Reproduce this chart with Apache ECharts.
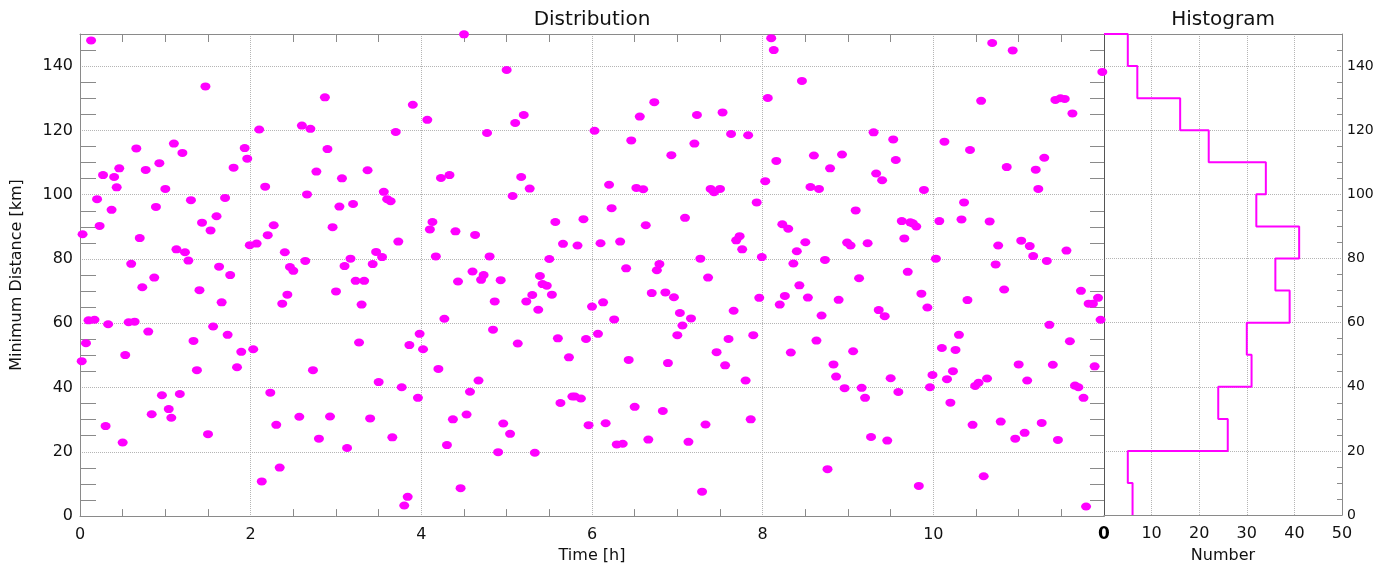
<!DOCTYPE html>
<html>
<head>
<meta charset="utf-8">
<script src="https://cdn.jsdelivr.net/npm/echarts@6/dist/echarts.min.js"></script>
<style>
html,body{margin:0;padding:0;background:#fff;}
#chart{width:1384px;height:569px;}
</style>
</head>
<body>
<div id="chart"></div>
<script>
// ---- Data ----
const titles = ['Distribution', 'Histogram'];
const xName = 'Time [h]';
const yName = 'Minimum Distance [km]';
const histName = 'Number';

const times = [
0.13,1.47,0.66,1.10,1.20,1.93,1.96,0.27,0.40,0.46,0.43,0.77,0.93,1.00,1.80,0.20,0.37,0.89,1.30,1.70,1.43,1.60,1.53,0.23,0.03,0.70,1.99,1.13,1.23,1.27,0.60,1.63,1.76,0.87,0.73,1.40,1.66,0.10,0.17,0.33,0.57,0.64,0.80,1.56,1.73,0.07,1.33,0.02,0.53,1.89,1.37,1.84,0.96,1.17,1.04,1.07,0.84,0.30,1.50,0.50,
2.87,3.90,2.10,2.60,2.70,3.70,2.90,2.77,3.07,3.37,2.17,2.66,3.56,3.60,3.64,3.04,3.20,2.27,2.20,2.96,2.07,3.73,2.40,2.64,2.46,2.50,3.17,3.10,3.47,3.54,3.43,3.23,3.33,3.00,2.43,2.37,3.30,3.27,2.03,3.86,3.98,4.02,2.73,3.50,3.77,3.96,2.23,2.30,2.57,2.93,3.40,2.80,3.13,3.66,2.34,2.13,3.84,3.80,
4.50,5.00,4.07,5.10,5.20,4.77,4.23,4.33,5.17,5.27,5.07,4.13,4.10,4.40,4.63,5.57,5.90,5.66,5.83,4.17,4.80,5.50,4.60,4.73,4.70,4.43,4.93,5.39,5.42,5.47,5.30,5.53,4.86,5.23,5.37,4.27,4.84,5.13,5.60,5.93,5.73,4.20,4.67,4.57,5.63,5.77,5.80,5.87,4.37,4.53,4.96,5.04,5.96,4.30,4.90,5.33,4.46,
6.73,6.56,7.23,7.53,6.03,6.46,7.20,7.63,7.83,6.93,6.20,6.52,6.60,7.39,7.43,7.50,6.23,7.93,7.09,6.63,6.10,6.33,7.69,7.73,7.76,7.99,6.40,6.76,6.79,7.27,7.36,6.70,6.86,6.96,7.96,6.00,6.13,7.03,7.16,7.06,7.66,6.07,7.00,7.60,7.89,6.26,6.43,6.89,7.46,7.56,7.80,6.50,6.83,6.16,7.33,7.86,6.29,6.36,6.66,7.13,7.29,
8.10,8.13,8.46,8.06,9.30,9.53,8.16,8.60,8.93,8.79,9.56,9.33,9.40,8.03,8.56,8.66,9.89,9.09,8.23,8.30,9.63,9.73,9.76,9.80,9.66,8.50,8.99,9.03,9.23,8.40,8.36,8.73,9.13,9.70,8.43,8.26,8.20,8.53,8.89,8.69,9.36,9.43,9.86,9.93,8.63,8.33,9.06,8.83,8.86,8.96,9.16,9.20,9.50,9.59,9.96,9.99,9.27,9.46,8.76,9.83,
10.69,10.93,11.98,10.56,11.43,11.49,11.54,11.63,10.13,10.43,10.86,11.20,11.30,11.23,10.36,10.07,10.33,10.66,10.76,11.03,11.13,11.17,11.33,11.56,10.03,10.73,10.83,10.40,11.73,11.82,11.87,11.93,11.96,11.36,10.30,10.10,10.26,11.60,10.23,10.16,10.49,10.53,10.63,11.00,11.10,11.40,11.89,11.66,11.70,11.76,10.20,10.46,10.79,11.27,10.96,11.07,11.46,10.59,11.79
];

const distances = [
148.0,133.7,114.4,115.9,113.0,114.5,111.2,106.1,105.5,108.2,102.3,107.7,109.8,101.8,108.4,98.6,95.3,96.2,98.3,99.0,91.3,93.3,88.9,90.3,87.7,86.5,84.3,83.0,82.1,79.5,78.5,77.6,75.0,74.2,71.2,70.3,66.5,60.9,61.1,59.7,60.3,60.5,57.4,59.0,56.4,53.8,54.5,48.2,50.1,51.1,45.4,46.3,37.6,38.0,33.3,30.6,31.7,28.0,25.5,22.9,
130.3,128.0,120.3,121.5,120.5,119.5,114.2,107.2,105.1,107.6,102.5,100.1,100.9,98.6,98.0,96.3,97.1,90.5,87.4,89.9,84.8,85.4,82.1,79.4,77.5,76.3,80.1,77.8,82.2,80.6,78.4,73.2,73.2,69.9,68.9,66.1,65.8,54.0,51.9,53.2,56.7,51.9,45.4,41.7,40.1,36.8,38.4,28.4,30.9,31.0,30.4,24.1,21.2,24.5,15.1,10.8,6.0,3.3,
149.9,138.8,123.3,122.3,124.8,119.2,105.2,106.1,105.5,101.9,99.6,91.5,89.2,88.6,87.5,91.5,92.4,84.7,84.2,80.8,80.8,80.0,76.1,75.0,73.5,73.0,73.4,74.7,72.2,71.7,68.8,68.9,66.8,66.8,64.2,61.4,58.0,53.7,55.3,55.1,49.4,45.8,42.2,38.7,35.2,37.2,37.2,36.6,30.1,31.6,28.8,25.6,28.3,22.1,19.9,19.7,8.7,
128.8,124.3,124.8,125.6,119.9,116.9,115.9,118.9,118.5,112.3,103.1,102.1,101.7,101.8,100.8,101.8,95.8,97.6,92.8,90.5,84.9,85.4,85.8,87.1,83.0,80.6,77.1,76.5,78.4,80.1,74.2,69.4,69.6,68.1,67.9,65.2,66.5,63.2,61.5,59.3,63.9,56.7,56.3,55.1,56.3,61.2,48.6,47.6,51.0,46.9,42.2,34.0,32.7,28.9,28.5,30.1,22.3,22.5,23.8,23.1,7.6,
148.7,145.0,135.4,130.1,119.4,117.2,110.5,112.2,112.5,108.2,110.8,106.6,104.5,104.2,102.4,101.8,101.5,95.1,90.8,89.4,91.8,91.4,91.1,90.1,86.4,85.2,85.1,84.2,84.9,82.4,78.6,79.7,74.0,76.0,71.8,68.5,65.8,68.0,67.3,62.4,64.1,62.2,69.2,64.9,54.6,50.9,51.3,47.2,43.4,39.8,39.9,36.8,42.9,38.6,40.1,43.9,24.6,23.5,14.6,9.4,
147.2,144.9,138.2,129.2,129.5,130.0,129.8,125.3,116.5,113.9,108.6,107.8,111.5,101.8,97.6,91.8,92.3,91.7,84.2,85.7,84.0,80.9,79.4,82.6,80.1,78.3,70.5,67.2,70.1,66.1,66.1,67.9,61.1,59.5,56.4,52.3,51.7,54.4,45.1,42.6,40.5,41.5,42.8,47.2,42.2,47.1,46.6,40.6,40.1,36.8,35.3,28.4,29.4,29.0,24.1,25.9,23.7,12.4,3.0
];

// histogram: lower edge of each 10 km bin and the count in it
const binLower  = [0, 10, 20, 30, 40, 50, 60, 70, 80, 90, 100, 110, 120, 130, 140];
const binWidth  = 10;
const binCounts = [6, 5, 26, 24, 31, 30, 39, 36, 41, 32, 34, 22, 16, 7, 5];

// ---- Build library data ----
const scatterData = times.map((t, i) => [t, distances[i]]);
const stepData = [];
const nBins = binLower.length;
stepData.push([0, binLower[nBins - 1] + binWidth]);
for (let i = nBins - 1; i >= 0; i--) {
  stepData.push([binCounts[i], binLower[i] + binWidth]);
  stepData.push([binCounts[i], binLower[i]]);
}

const FONT = 'DejaVu Sans';
const AX = '#8a8a8a';
const GRIDC = '#b5b5b5';
const MAG = '#ff00ff';
const hiddenInsideTick = {show: false, inside: true};

const chart = echarts.init(document.getElementById('chart'), null, {renderer: 'canvas'});
chart.setOption({
  animation: false,
  backgroundColor: '#ffffff',
  textStyle: {fontFamily: FONT},
  graphic: [
    {type: 'text', x: 592, y: 20, style: {text: titles[0], font: '20px "DejaVu Sans"', fill: '#111', align: 'center', verticalAlign: 'middle'}},
    {type: 'text', x: 1223, y: 20, style: {text: titles[1], font: '20px "DejaVu Sans"', fill: '#111', align: 'center', verticalAlign: 'middle'}}
  ],
  grid: [
    {left: 80, top: 34, width: 1024, height: 486},
    {left: 1104, top: 34, width: 238, height: 486}
  ],
  xAxis: [
    { // scatter bottom
      gridIndex: 0, type: 'value', min: 0, max: 12, interval: 2, position: 'bottom',
      name: xName, nameLocation: 'middle', nameGap: 29,
      nameTextStyle: {fontSize: 16, color: '#111', fontFamily: FONT},
      axisLine: {show: true, onZero: false, lineStyle: {color: AX, width: 1}},
      axisTick: hiddenInsideTick,
      minorTick: {show: true, splitNumber: 4, length: 7, lineStyle: {color: AX}},
      axisLabel: {show: true, inside: false, margin: 11, fontSize: 16, color: '#111', fontFamily: FONT,
        formatter: v => (v >= 12 ? '' : String(v))},
      splitLine: {show: true, lineStyle: {type: 'dotted', color: GRIDC, width: 1}}
    },
    { // scatter top frame
      gridIndex: 0, type: 'value', min: 0, max: 12, interval: 2, position: 'top',
      axisLine: {show: true, onZero: false, lineStyle: {color: AX, width: 1}},
      axisTick: hiddenInsideTick,
      minorTick: {show: true, splitNumber: 4, length: 8, lineStyle: {color: AX}},
      axisLabel: {show: false}, splitLine: {show: false}
    },
    { // histogram bottom
      gridIndex: 1, type: 'value', min: 0, max: 50, interval: 10, position: 'bottom',
      name: histName, nameLocation: 'middle', nameGap: 29,
      nameTextStyle: {fontSize: 16, color: '#111', fontFamily: FONT},
      axisLine: {show: true, onZero: false, lineStyle: {color: AX, width: 1}},
      axisTick: hiddenInsideTick,
      axisLabel: {show: true, inside: false, margin: 11, fontSize: 16, color: '#111', fontFamily: FONT,
        formatter: v => (v === 0 ? '{b|0}' : String(v)),
        rich: {b: {fontWeight: 'bold', fontSize: 17, color: '#000', fontFamily: FONT}}},
      splitLine: {show: true, lineStyle: {type: 'dotted', color: GRIDC, width: 1}}
    },
    { // histogram top frame
      gridIndex: 1, type: 'value', min: 0, max: 50, interval: 10, position: 'top',
      axisLine: {show: true, onZero: false, lineStyle: {color: AX, width: 1}},
      axisTick: hiddenInsideTick, axisLabel: {show: false}, splitLine: {show: false}
    }
  ],
  yAxis: [
    { // scatter left
      gridIndex: 0, type: 'value', min: 0, max: 150, interval: 20, position: 'left',
      name: yName, nameLocation: 'middle', nameGap: 55, nameRotate: 90,
      nameTextStyle: {fontSize: 16, color: '#111', fontFamily: FONT},
      axisLine: {show: true, onZero: false, lineStyle: {color: AX, width: 1}},
      axisTick: hiddenInsideTick,
      minorTick: {show: true, splitNumber: 4, length: 16, lineStyle: {color: AX}},
      axisLabel: {show: true, inside: false, margin: 7, fontSize: 16, color: '#111', fontFamily: FONT,
        formatter: v => (v >= 150 ? '' : String(v))},
      splitLine: {show: true, lineStyle: {type: 'dotted', color: GRIDC, width: 1}}
    },
    { // scatter right frame
      gridIndex: 0, type: 'value', min: 0, max: 150, interval: 20, position: 'right',
      axisLine: {show: true, onZero: false, lineStyle: {color: '#555', width: 1}},
      axisTick: hiddenInsideTick,
      minorTick: {show: true, splitNumber: 4, length: 14, lineStyle: {color: AX}},
      axisLabel: {show: false}, splitLine: {show: false}
    },
    { // histogram right
      gridIndex: 1, type: 'value', min: 0, max: 150, interval: 20, position: 'right',
      axisLine: {show: true, onZero: false, lineStyle: {color: AX, width: 1}},
      axisTick: hiddenInsideTick,
      minorTick: {show: true, splitNumber: 4, length: 5, lineStyle: {color: AX}},
      axisLabel: {show: true, inside: false, margin: 5, fontSize: 14, color: '#111', fontFamily: FONT,
        formatter: v => (v >= 150 ? '' : String(v))},
      splitLine: {show: true, lineStyle: {type: 'dotted', color: GRIDC, width: 1}}
    },
    { // histogram left frame
      gridIndex: 1, type: 'value', min: 0, max: 150, interval: 20, position: 'left',
      axisLine: {show: true, onZero: false, lineStyle: {color: '#555', width: 1}},
      axisTick: hiddenInsideTick, axisLabel: {show: false}, splitLine: {show: false}
    }
  ],
  series: [
    {
      type: 'scatter', xAxisIndex: 0, yAxisIndex: 0, data: scatterData,
      symbol: 'circle', symbolSize: [10, 8], clip: true,
      itemStyle: {color: MAG, opacity: 1}
    },
    {
      type: 'line', xAxisIndex: 2, yAxisIndex: 2, data: stepData,
      showSymbol: false, symbol: 'none', clip: false,
      lineStyle: {color: MAG, width: 2}
    }
  ]
});
</script>
</body>
</html>
